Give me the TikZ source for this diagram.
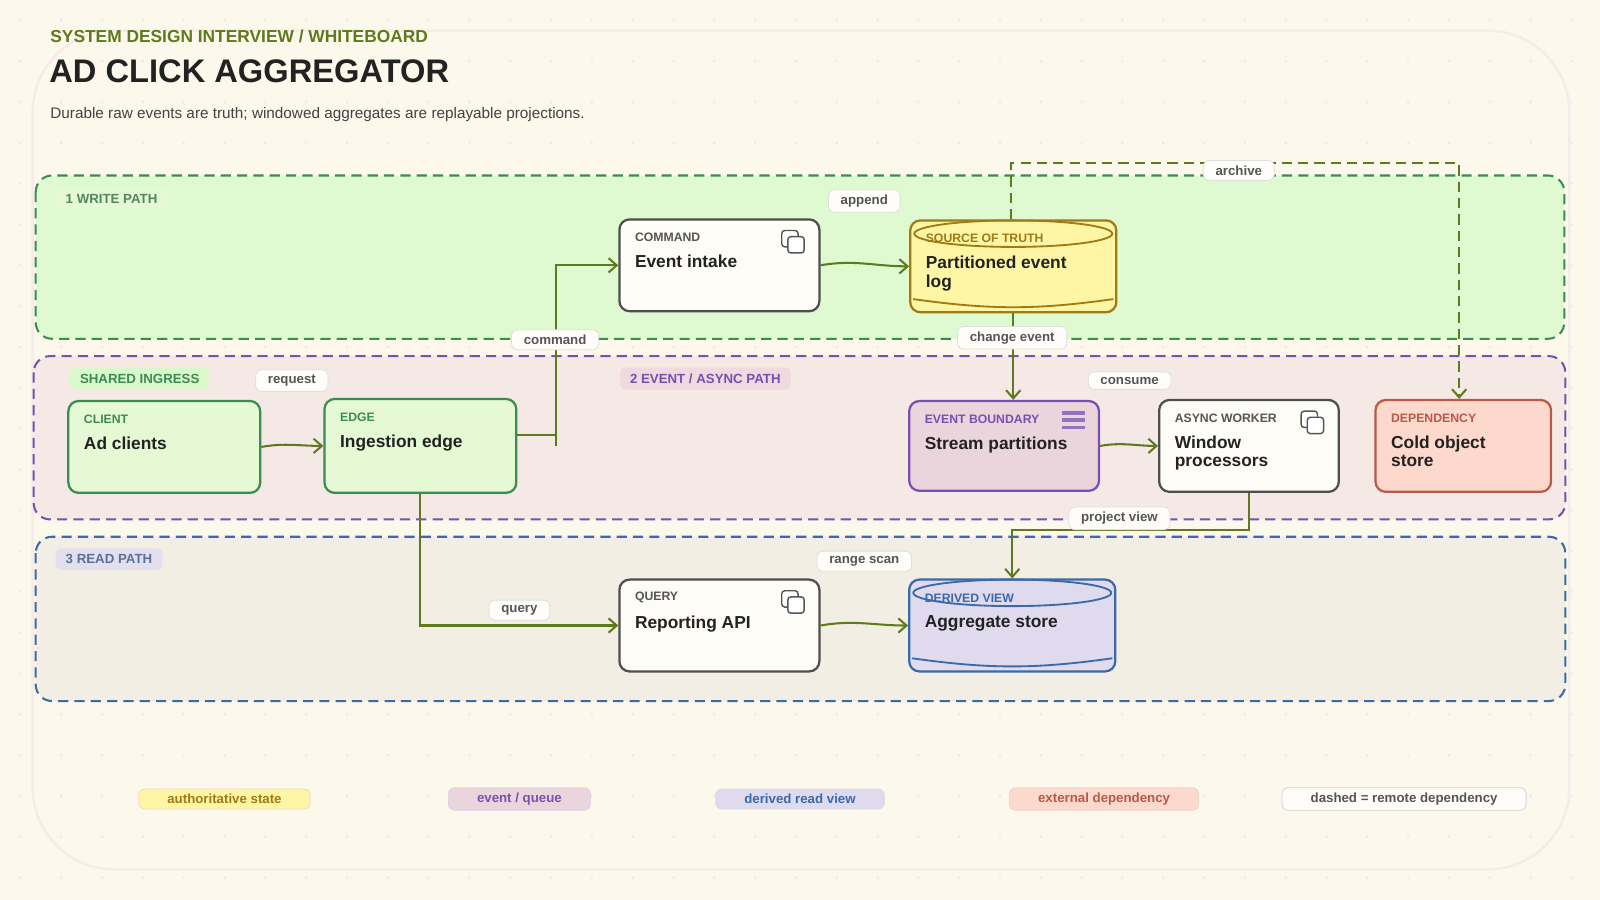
\documentclass[tikz,border=0pt]{standalone}
\usepackage{fontspec}
\setmainfont{Liberation Sans}
\usetikzlibrary{calc}
\usetikzlibrary{positioning}
\usetikzlibrary{arrows.meta}

\definecolor{papel}{HTML}{FDF8EC}
\definecolor{oliva}{HTML}{5F7A1E}
\definecolor{verde}{HTML}{3D8A55}
\definecolor{roxo}{HTML}{7A4FB0}
\definecolor{azul}{HTML}{3A6AA8}
\definecolor{ouro}{HTML}{A07A14}
\definecolor{tijolo}{HTML}{B85A45}
\definecolor{tinta}{HTML}{222222}
\definecolor{cinza}{HTML}{555555}

\begin{document}
\begin{tikzpicture}[x=0.5pt,y=-0.5pt]
  %--------------------------------------------
  % Estilos
  %--------------------------------------------
  \tikzstyle{block} = [
    draw=tinta!80, fill=white!60!papel, rectangle, rounded corners=5pt,
    line width=1.1pt, inner sep=0pt                 % contorno grosso
  ]
  \tikzstyle{tag} = [anchor=west, inner sep=0pt, font=\fontsize{6}{7}\selectfont\bfseries]
  \tikzstyle{title} = [anchor=north west, inner sep=0pt, align=left,
    font=\fontsize{8.5}{9}\selectfont\bfseries, text=tinta]
  \tikzstyle{pill} = [draw=gray!25, fill=white!70!papel, rounded corners=3pt, inner xsep=6pt,
    inner ysep=2.5pt, font=\fontsize{6.5}{7}\selectfont\bfseries, text=cinza]
  \tikzstyle{lane} = [dashed, dash pattern=on 5pt off 3pt, line width=1pt, rounded corners=8pt]
  \tikzstyle{lanetag} = [rounded corners=3pt, inner xsep=5pt, inner ysep=3pt,
    font=\fontsize{6.5}{7}\selectfont\bfseries, anchor=west]
  \tikzstyle{flow} = [draw=oliva, line width=1pt, -{Straight Barb[length=4pt,width=7pt]}]

  %--------------------------------------------
  % Fundo e grade de pontos
  %--------------------------------------------
  \useasboundingbox (0,0) rectangle (1568,882);
  \fill[papel] (0,0) rectangle (1568,882);
  \foreach \x in {20,60,...,1560}
    \foreach \y in {20,60,...,860}
      \fill[gray!18] (\x,\y) circle (0.6pt);
  \draw[tijolo!12, line width=1.2pt, rounded corners=40pt] (32,30) rectangle (1538,852);

  %--------------------------------------------
  % Cabeçalho
  %--------------------------------------------
  \node[anchor=west, inner sep=0pt, text=oliva, font=\fontsize{8.5}{9}\selectfont\bfseries]
    (kicker) at (49,36) {SYSTEM DESIGN INTERVIEW / WHITEBOARD};
  \node[anchor=west, inner sep=0pt, text=tinta, font=\fontsize{16}{17}\selectfont\bfseries]
    (headline) at (48,70) {AD CLICK AGGREGATOR};
  \node[anchor=west, inner sep=0pt, text=tinta!85, font=\fontsize{7.5}{8}\selectfont]
    (subtitle) at (49,112) {Durable raw events are truth; windowed aggregates are replayable projections.};

  %--------------------------------------------
  % Faixas (lanes)
  %--------------------------------------------
  \draw[lane, draw=verde, fill=green!12!papel] (35,172) rectangle (1533,332);
  \draw[lane, draw=roxo, fill=violet!6!papel] (33,349) rectangle (1534,509);
  \draw[lane, draw=azul, fill=blue!3!gray!8!papel] (35,526) rectangle (1534,687);
  \node[lanetag, fill=green!10!papel, text=verde!70!gray] (lwrite) at (54,195) {1 WRITE PATH};
  \node[lanetag, fill=green!14!papel, text=verde] (lshared) at (68,371) {SHARED INGRESS};
  \node[lanetag, fill=violet!12!papel, text=roxo] (levent) at (607,371) {2 EVENT / ASYNC PATH};
  \node[lanetag, fill=blue!10!papel, text=azul!60!gray] (lread) at (54,548) {3 READ PATH};

  %--------------------------------------------
  % Blocos
  %--------------------------------------------
  \node[block, fill=green!10!papel, draw=verde, minimum width=94pt, minimum height=45pt] (ad) at (161,438) {};
  \node[block, fill=green!10!papel, draw=verde, minimum width=94pt, minimum height=46pt] (edge) at (412,437) {};
  \node[block, minimum width=98pt, minimum height=45pt] (intake) at (705,260) {};
  \node[block, fill=yellow!30!papel, draw=ouro, minimum width=101pt, minimum height=45pt] (log) at (993,261) {};
  \node[block, fill=violet!14!papel, draw=roxo, minimum width=93pt, minimum height=44pt] (stream) at (984,437) {};
  \node[block, minimum width=88pt, minimum height=45pt] (window) at (1224,437) {};
  \node[block, fill=red!13!papel, draw=tijolo, minimum width=86pt, minimum height=45pt] (cold) at (1434,437) {};
  \node[block, minimum width=98pt, minimum height=45pt] (report) at (705,613) {};
  \node[block, fill=blue!12!papel, draw=azul, minimum width=101pt, minimum height=45pt] (agg) at (992,613) {};

  % cilindros
  \draw[ouro, line width=0.9pt] (log.center) ++(0,-32) ellipse (97 and 13);
  \draw[ouro, line width=0.9pt] ($(log.south west)+(4,-14)$) to[bend right=8] ($(log.south east)+(-4,-14)$);
  \draw[azul, line width=0.9pt] (agg.center) ++(0,-32) ellipse (97 and 13);
  \draw[azul, line width=0.9pt] ($(agg.south west)+(4,-14)$) to[bend right=8] ($(agg.south east)+(-4,-14)$);

  %--------------------------------------------
  % Textos dos blocos
  %--------------------------------------------
  \foreach \n/\t/\m/\c in {ad/CLIENT/Ad clients/verde, edge/EDGE/Ingestion edge/verde,
      intake/COMMAND/Event intake/cinza, log/SOURCE OF TRUTH/Partitioned event\\log/ouro,
      stream/EVENT BOUNDARY/Stream partitions/roxo, window/ASYNC WORKER/Window\\processors/cinza,
      cold/DEPENDENCY/Cold object\\store/tijolo, report/QUERY/Reporting API/cinza,
      agg/DERIVED VIEW/Aggregate store/azul}
  {
    \node[tag, text=\c] (\n-tag) at ($(\n.north west)+(16,19)$) {\t};
    \node[title] (\n-txt) at ($(\n.north west)+(16,36)$) {\m};
  }

  % icones
  \foreach \n in {intake, window, report}
  {
    \draw[cinza, line width=0.7pt, rounded corners=1.5pt, fill=white]
      ($(\n.north east)+(-38,12)$) rectangle ++(16,16);
    \draw[cinza, line width=0.7pt, rounded corners=1.5pt, fill=white]
      ($(\n.north east)+(-32,18)$) rectangle ++(16,16);
  }
  \foreach \d in {13,20,27}
    \draw[roxo!80, line width=1.8pt] ($(stream.north east)+(-37,\d)$) -- ++(22,0);

  %--------------------------------------------
  % Conexões
  %--------------------------------------------
  \coordinate (arcA) at (991,160);
  \coordinate (arcB) at (1430,160);
  \draw[flow, dashed, dash pattern=on 5pt off 3pt] (log.north -| arcA) -- (arcA) -- (arcB) -- (cold.north -| arcB);

  \draw[flow] (ad.east) to[out=10,in=180] (edge.west);
  \draw[flow] ($(edge.east)+(0,-11)$) -| ($(edge.east)+(38,0)$) |- (intake.west);
  \draw[flow] (intake.east) to[out=10,in=180] (log.west);
  \draw[flow] (log.south) -- (stream.north -| log.south);
  \draw[flow] (stream.east) to[out=10,in=180] (window.west);
  \draw[flow] (window.south) |- (992,519) -- (agg.north);
  \draw[flow] (edge.south) |- (report.west);
  \draw[flow] (report.east) to[out=10,in=180] (agg.west);

  %--------------------------------------------
  % Rótulos das conexões
  %--------------------------------------------
  \node[pill] (larchive) at (1214,167) {archive};
  \node[pill] (lrequest) at (286,373) {request};
  \node[pill] (lcommand) at (544,333) {command};
  \node[pill] (lappend) at (847,197) {append};
  \node[pill] (lchange) at (992,331) {change event};
  \node[pill] (lconsume) at (1107,373) {consume};
  \node[pill] (lproject) at (1097,508) {project view};
  \node[pill] (lquery) at (509,598) {query};
  \node[pill] (lrange) at (847,550) {range scan};

  %--------------------------------------------
  % Legenda
  %--------------------------------------------
  \foreach \x/\f/\c/\t in {220/yellow!30!papel/ouro/{authoritative state},
      509/violet!14!papel/roxo/{event / queue}, 784/blue!12!papel/azul/{derived read view},
      1082/red!13!papel/tijolo/{external dependency}, 1376/white!70!papel/cinza/{dashed = remote dependency}}
    \node[pill, fill=\f, draw=\c!25, text=\c, inner xsep=14pt] (leg-\x) at (\x,783) {\t};
\end{tikzpicture}
\end{document}
